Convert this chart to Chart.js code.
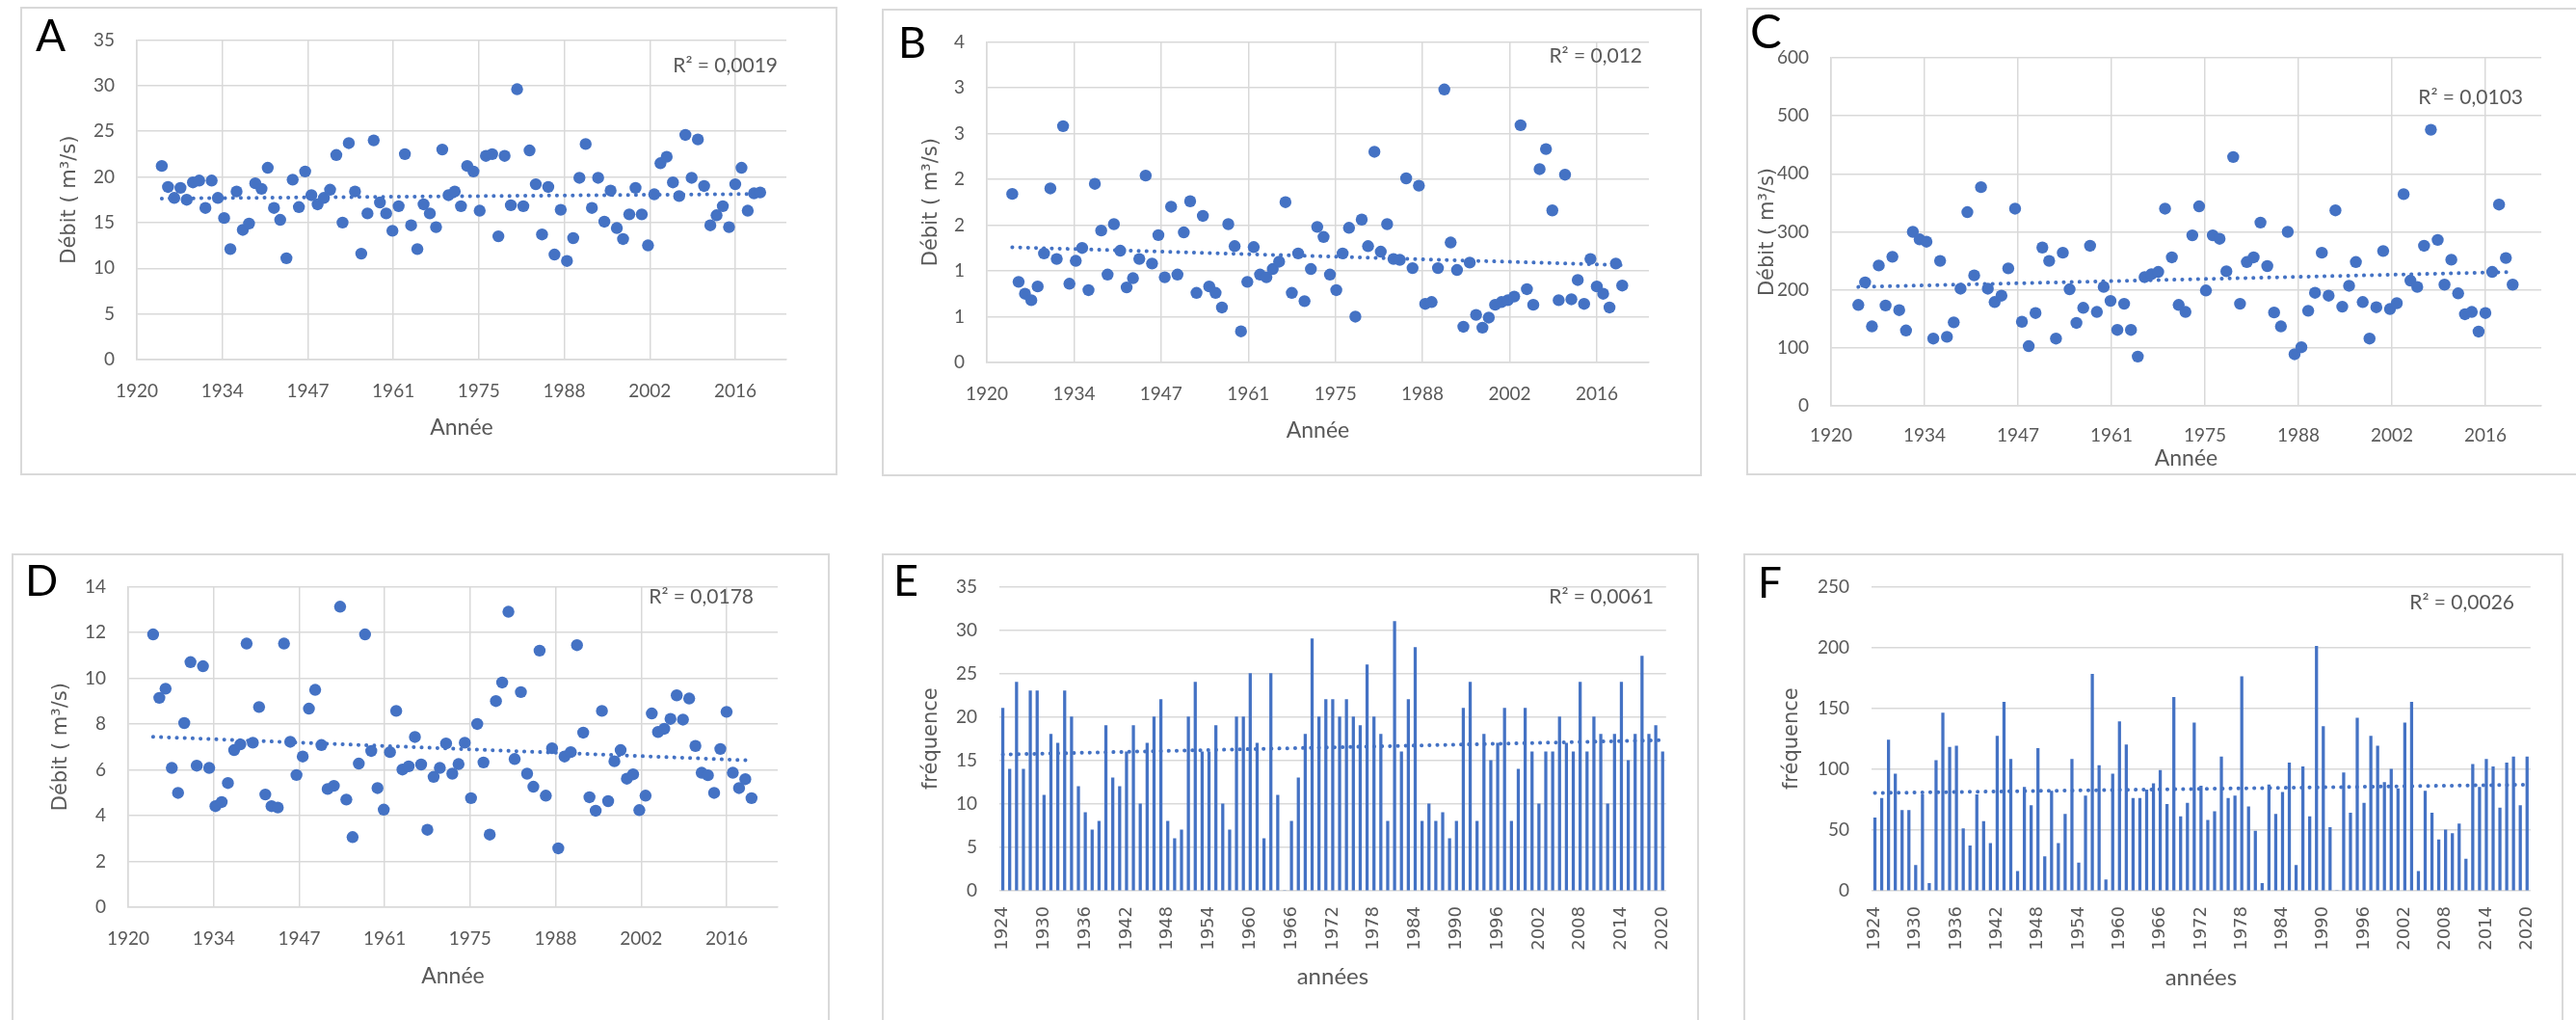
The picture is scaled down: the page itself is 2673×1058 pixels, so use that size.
<!DOCTYPE html>
<html>
<head>
<meta charset="utf-8">
<script src="https://cdn.jsdelivr.net/npm/chart.js@4.4.0/dist/chart.umd.min.js"></script>
<style>
  body { margin: 0; background: #fff; width: 2673px; height: 1058px; overflow: hidden; position: relative; }
  canvas { position: absolute; }
  .box { position: absolute; border: 2px solid #d9d9d9; box-sizing: border-box; pointer-events: none; }
</style>
</head>
<body>
<script>
// years of the series (same for all six panels)
const years = [
  1924, 1925, 1926, 1927, 1928, 1929, 1930, 1931, 1932, 1933,
  1934, 1935, 1936, 1937, 1938, 1939, 1940, 1941, 1942, 1943,
  1944, 1945, 1946, 1947, 1948, 1949, 1950, 1951, 1952, 1953,
  1954, 1955, 1956, 1957, 1958, 1959, 1960, 1961, 1962, 1963,
  1964, 1965, 1966, 1967, 1968, 1969, 1970, 1971, 1972, 1973,
  1974, 1975, 1976, 1977, 1978, 1979, 1980, 1981, 1982, 1983,
  1984, 1985, 1986, 1987, 1988, 1989, 1990, 1991, 1992, 1993,
  1994, 1995, 1996, 1997, 1998, 1999, 2000, 2001, 2002, 2003,
  2004, 2005, 2006, 2007, 2008, 2009, 2010, 2011, 2012, 2013,
  2014, 2015, 2016, 2017, 2018, 2019, 2020
];

// A - débit
const debitA = [
  21.2, 18.9, 17.7, 18.8, 17.5, 19.4, 19.6, 16.6, 19.6, 17.7,
  15.5, 12.1, 18.4, 14.2, 14.9, 19.3, 18.7, 21.0, 16.6, 15.3,
  11.1, 19.7, 16.7, 20.6, 18.0, 17.0, 17.7, 18.6, 22.4, 15.0,
  23.7, 18.4, 11.6, 16.0, 24.0, 17.2, 16.0, 14.1, 16.8, 22.5,
  14.7, 12.1, 17.0, 16.0, 14.5, 23.0, 18.0, 18.4, 16.8, 21.2,
  20.6, 16.3, 22.3, 22.5, 13.5, 22.3, 16.9, 29.6, 16.8, 22.9,
  19.2, 13.7, 18.9, 11.5, 16.4, 10.8, 13.3, 19.9, 23.6, 16.6,
  19.9, 15.1, 18.5, 14.4, 13.2, 15.9, 18.8, 15.9, 12.5, 18.1,
  21.5, 22.2, 19.4, 17.9, 24.6, 19.9, 24.1, 19.0, 14.7, 15.8,
  16.8, 14.5, 19.2, 21.0, 16.3, 18.2, 18.3
];

// B - débit
const debitB = [
  1.84, 0.88, 0.75, 0.68, 0.83, 1.19, 1.90, 1.13, 2.58, 0.86,
  1.11, 1.25, 0.79, 1.95, 1.44, 0.96, 1.51, 1.22, 0.82, 0.92,
  1.13, 2.04, 1.08, 1.39, 0.93, 1.70, 0.96, 1.42, 1.76, 0.76,
  1.60, 0.83, 0.76, 0.60, 1.51, 1.27, 0.34, 0.88, 1.26, 0.96,
  0.93, 1.02, 1.10, 1.75, 0.76, 1.19, 0.67, 1.02, 1.48, 1.37,
  0.96, 0.79, 1.19, 1.47, 0.50, 1.56, 1.27, 2.30, 1.21, 1.51,
  1.13, 1.12, 2.01, 1.03, 1.93, 0.64, 0.66, 1.03, 2.98, 1.31,
  1.01, 0.39, 1.09, 0.52, 0.38, 0.49, 0.63, 0.66, 0.68, 0.72,
  2.59, 0.80, 0.63, 2.11, 2.33, 1.66, 0.68, 2.05, 0.69, 0.90,
  0.64, 1.13, 0.83, 0.75, 0.60, 1.08, 0.84
];

// C - débit
const debitC = [
  174, 213, 137, 242, 173, 257, 165, 130, 300, 287,
  283, 116, 250, 119, 144, 202, 334, 225, 377, 202,
  179, 190, 237, 340, 145, 103, 160, 273, 250, 116,
  264, 201, 143, 169, 276, 162, 205, 181, 131, 176,
  131, 85, 222, 227, 231, 340, 256, 174, 162, 294,
  344, 199, 294, 288, 232, 429, 176, 248, 256, 316,
  241, 161, 137, 300, 89, 101, 164, 195, 264, 190,
  337, 171, 207, 248, 179, 116, 170, 267, 167, 177,
  365, 216, 205, 276, 476, 286, 209, 252, 194, 158,
  162, 128, 160, 231, 347, 255, 209
];

// D - débit
const debitD = [
  11.91, 9.14, 9.54, 6.08, 4.99, 8.04, 10.70, 6.18, 10.52, 6.08,
  4.41, 4.59, 5.42, 6.86, 7.11, 11.51, 7.18, 8.74, 4.92, 4.41,
  4.35, 11.51, 7.22, 5.77, 6.58, 8.67, 9.49, 7.08, 5.16, 5.30,
  13.12, 4.70, 3.06, 6.27, 11.91, 6.82, 5.20, 4.26, 6.77, 8.57,
  6.01, 6.15, 7.43, 6.23, 3.38, 5.69, 6.08, 7.15, 5.83, 6.25,
  7.18, 4.76, 8.00, 6.32, 3.17, 9.00, 9.81, 12.90, 6.47, 9.39,
  5.83, 5.26, 11.20, 4.87, 6.94, 2.57, 6.58, 6.77, 11.44, 7.62,
  4.80, 4.21, 8.57, 4.63, 6.37, 6.86, 5.61, 5.80, 4.24, 4.87,
  8.46, 7.65, 7.79, 8.22, 9.25, 8.19, 9.11, 7.04, 5.87, 5.76,
  4.99, 6.91, 8.53, 5.87, 5.20, 5.59, 4.76
];

// E - fréquence
const freqE = [
  21, 14, 24, 14, 23, 23, 11, 18, 17, 23,
  20, 12, 9, 7, 8, 19, 13, 12, 16, 19,
  10, 17, 20, 22, 8, 6, 7, 20, 24, 16,
  16, 19, 10, 7, 20, 20, 25, 17, 6, 25,
  11, 0, 8, 13, 18, 29, 20, 22, 22, 20,
  22, 20, 19, 26, 20, 18, 8, 31, 16, 22,
  28, 8, 10, 8, 9, 6, 8, 21, 24, 8,
  18, 15, 17, 21, 8, 14, 21, 16, 10, 16,
  16, 20, 17, 16, 24, 16, 20, 18, 10, 18,
  24, 15, 18, 27, 18, 19, 16
];

// F - fréquence
const freqF = [
  60, 76, 124, 96, 66, 66, 21, 79, 6, 107,
  146, 118, 119, 51, 37, 79, 57, 39, 127, 155,
  108, 16, 85, 70, 117, 28, 82, 39, 63, 108,
  23, 78, 178, 103, 9, 96, 139, 120, 76, 76,
  83, 88, 99, 71, 159, 61, 72, 138, 86, 58,
  65, 110, 76, 78, 176, 69, 49, 6, 87, 63,
  81, 105, 21, 102, 61, 201, 135, 52, 0, 97,
  64, 142, 72, 127, 119, 89, 100, 84, 138, 155,
  16, 82, 64, 42, 50, 47, 55, 26, 104, 85,
  108, 102, 68, 105, 110, 70, 110
];

const r2Labels = ['R² = 0,0019', 'R² = 0,012', 'R² = 0,0103', 'R² = 0,0178', 'R² = 0,0061', 'R² = 0,0026'];
const scatterTickLabels = ['1920', '1934', '1947', '1961', '1975', '1988', '2002', '2016'];
const tickLabelsB = ['0', '1', '1', '2', '2', '3', '3', '4'];

const blue = '#4472C4';
const gridCol = '#D9D9D9';
const txt = '#595959';

// least squares fit
function linFit(xs, ys) {
  const n = xs.length;
  let sx = 0, sy = 0, sxx = 0, sxy = 0;
  for (let i = 0; i < n; i++) {
    sx += xs[i]; sy += ys[i]; sxx += xs[i] * xs[i]; sxy += xs[i] * ys[i];
  }
  const b = (n * sxy - sx * sy) / (n * sxx - sx * sx);
  return { a: (sy - b * sx) / n, b: b };
}

// letter + R² text
const panelText = {
  id: 'panelText',
  afterDraw(chart, args, o) {
    const c = chart.ctx;
    c.save();
    c.textBaseline = 'alphabetic';
    c.fillStyle = '#000';
    c.textAlign = 'left';
    c.font = o.letterSize + 'px Lato';
    c.fillText(o.letter, o.letterX, o.letterY);
    c.fillStyle = txt;
    c.textAlign = 'right';
    c.font = '21px Lato';
    c.fillText(o.r2, o.r2X, o.r2Y);
    c.restore();
  }
};

// layout of each panel: box [left, top, width, height], plot [left, top, right, bottom]
const panels = [
  { letter: 'A', kind: 'scatter', values: debitA, r2: r2Labels[0], yMax: 35, yStep: 5,
    box: [21, 7, 848, 486], plot: [142, 38, 816, 373], letterPos: [37, 53, 46], r2Pos: [807, 75],
    yTitlePad: 39, xTitlePad: 36, xTickPad: 21 },
  { letter: 'B', kind: 'scatter', values: debitB, r2: r2Labels[1], yMax: 3.5, yStep: 0.5, yLabels: tickLabelsB,
    box: [915, 9, 851, 485], plot: [1024, 39, 1711, 376], letterPos: [932, 60, 45], r2Pos: [1704, 65],
    yTitlePad: 39, xTitlePad: 34, xTickPad: 21 },
  { letter: 'C', kind: 'scatter', values: debitC, r2: r2Labels[2], yMax: 600, yStep: 100,
    box: [1812, 8, 870, 485], plot: [1900, 60, 2637, 421], letterPos: [1816, 50, 49], r2Pos: [2618, 108],
    yTitlePad: 10, xTitlePad: 4, xTickPad: 19 },
  { letter: 'D', kind: 'scatter', values: debitD, r2: r2Labels[3], yMax: 14, yStep: 2,
    box: [12, 574, 849, 500], plot: [133, 603, 807, 941], letterPos: [26, 618, 45], r2Pos: [782, 626],
    yTitlePad: 39, xTitlePad: 32, xTickPad: 21 },
  { letter: 'E', kind: 'bar', values: freqE, r2: r2Labels[4], yMax: 35, yStep: 5,
    box: [915, 574, 848, 500], plot: [1037, 603, 1734, 924], letterPos: [927, 618, 45], r2Pos: [1716, 626],
    yTitlePad: 39, xTitlePad: 30, xTickPad: 16 },
  { letter: 'F', kind: 'bar', values: freqF, r2: r2Labels[5], yMax: 250, yStep: 50,
    box: [1809, 574, 851, 500], plot: [1942, 603, 2631, 924], letterPos: [1824, 620, 44], r2Pos: [2609, 632],
    yTitlePad: 38, xTitlePad: 29, xTickPad: 16 }
];

const PAGE_H = 1058;

panels.forEach(function (p) {
  const [bl, bt, bw, bh] = p.box;
  const [pl, pt, pr, pb] = p.plot;
  const cw = bw;
  const ch = Math.min(bh, PAGE_H - bt);

  const cv = document.createElement('canvas');
  cv.width = cw; cv.height = ch;
  cv.style.left = bl + 'px'; cv.style.top = bt + 'px';
  cv.style.width = cw + 'px'; cv.style.height = ch + 'px';
  document.body.appendChild(cv);

  const frame = document.createElement('div');
  frame.className = 'box';
  frame.style.left = bl + 'px'; frame.style.top = bt + 'px';
  frame.style.width = bw + 'px'; frame.style.height = bh + 'px';
  document.body.appendChild(frame);

  const isBar = p.kind === 'bar';
  const fit = isBar ? linFit(years.map((y, i) => i), p.values) : linFit(years, p.values);

  // dotted trend line style
  const trendStyle = { borderColor: blue, borderWidth: 4, borderDash: [0.1, 8.1], borderCapStyle: 'round',
    pointRadius: 0, fill: false };

  const tickFont = { family: 'Lato', size: 19 };
  const yScale = {
    min: 0, max: p.yMax,
    ticks: {
      stepSize: p.yStep, color: txt, font: tickFont, padding: 23,
      callback: p.yLabels ? (v, i) => p.yLabels[i] : (v) => String(v)
    },
    grid: { color: gridCol, lineWidth: 1.5, drawTicks: false },
    border: { display: !isBar, color: gridCol, width: 1.5 },
    title: {
      display: true, text: isBar ? 'fréquence' : 'Débit ( m³/s)', color: txt,
      font: { family: 'DejaVu Sans', size: 21 }, padding: { top: p.yTitlePad, bottom: 0 }
    },
    afterFit: (s) => { s.width = pl - bl; }
  };

  let xScale, datasets, type, labels;
  if (isBar) {
    type = 'bar';
    labels = years.map(String);
    datasets = [
      Object.assign({ type: 'line', data: years.map((y, i) => fit.a + fit.b * i), order: 0 }, trendStyle),
      { data: p.values, backgroundColor: blue, barThickness: 2.6, order: 1 }
    ];
    xScale = {
      type: 'category', offset: true,
      grid: { display: false, drawTicks: false },
      border: { display: false },
      ticks: {
        autoSkip: false, minRotation: 90, maxRotation: 90, color: txt, padding: p.xTickPad,
        font: { family: 'DejaVu Sans', size: 18 },
        callback: (v, i) => (i % 6 === 0 ? labels[i] : '')
      },
      title: { display: true, text: 'années', color: txt, font: { family: 'Lato', size: 24 },
        padding: { top: 0, bottom: p.xTitlePad } },
      afterFit: (s) => { s.height = ch - (pb - bt); }
    };
  } else {
    type = 'scatter';
    const x0 = years[0], x1 = years[years.length - 1];
    datasets = [
      { data: years.map((y, i) => ({ x: y, y: p.values[i] })), backgroundColor: blue,
        pointRadius: 6.2, pointBorderWidth: 0, order: 0 },
      Object.assign({ type: 'line', data: [{ x: x0, y: fit.a + fit.b * x0 }, { x: x1, y: fit.a + fit.b * x1 }],
        order: 1 }, trendStyle)
    ];
    const step = 96 / 7;
    xScale = {
      type: 'linear', min: 1920, max: 2024.2,
      afterBuildTicks: (s) => { s.ticks = scatterTickLabels.map((l, i) => ({ value: 1920 + i * step })); },
      ticks: { autoSkip: false, maxRotation: 0, color: txt, font: tickFont, padding: p.xTickPad,
        callback: (v, i) => scatterTickLabels[i] },
      grid: { color: gridCol, lineWidth: 1.5, drawTicks: false },
      border: { color: gridCol, width: 1.5 },
      title: { display: true, text: 'Année', color: txt, font: { family: 'Lato', size: 23 },
        padding: { top: 0, bottom: p.xTitlePad } },
      afterFit: (s) => { s.height = ch - (pb - bt); }
    };
  }

  new Chart(cv, {
    type: type,
    data: { labels: labels, datasets: datasets },
    options: {
      responsive: false, animation: false, devicePixelRatio: 1,
      layout: { padding: { left: 0, top: pt - bt, right: bl + bw - pr, bottom: 0 } },
      plugins: {
        legend: { display: false }, tooltip: { enabled: false },
        panelText: {
          letter: p.letter, letterX: p.letterPos[0] - bl, letterY: p.letterPos[1] - bt, letterSize: p.letterPos[2],
          r2: p.r2, r2X: p.r2Pos[0] - bl, r2Y: p.r2Pos[1] - bt
        }
      },
      scales: { x: xScale, y: yScale }
    },
    plugins: [panelText]
  });
});
</script>
</body>
</html>
